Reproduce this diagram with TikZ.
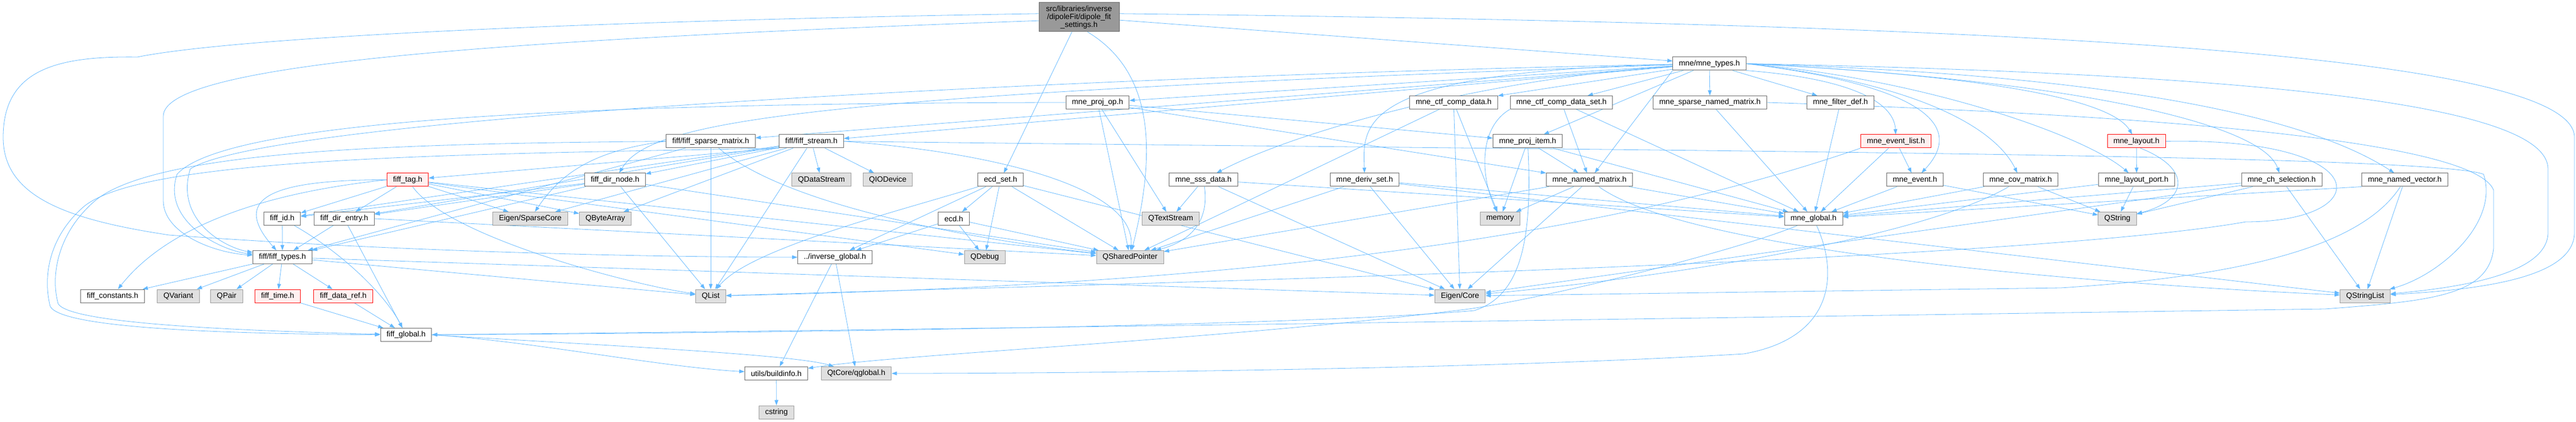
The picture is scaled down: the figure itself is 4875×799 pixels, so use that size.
\documentclass[tikz,border=0pt]{standalone}
\usepackage{fontspec}
\setmainfont{Liberation Sans}
\usetikzlibrary{arrows.meta,backgrounds}
\definecolor{edgeblue}{HTML}{63B8FF}
\definecolor{boxline}{HTML}{666666}
\definecolor{extfill}{HTML}{E0E0E0}
\definecolor{extline}{HTML}{999999}
\definecolor{warnfill}{HTML}{FFF0F0}
\definecolor{mainfill}{HTML}{999999}

\begin{document}
\begin{tikzpicture}[x=1pt,y=-1pt,
  hdr/.style={draw=boxline,fill=white,line width=1pt,minimum height=25pt,inner xsep=11.5pt,inner ysep=0pt,font=\fontsize{14.5}{15}\selectfont},
  ext/.style={hdr,draw=extline,fill=extfill},
  warn/.style={hdr,draw=red,fill=warnfill},
  dep/.style={color=edgeblue,line width=0.8pt,-{Triangle[length=10pt,width=7pt]}}]
\useasboundingbox (0,0) rectangle (4875,799);

\node[hdr,fill=mainfill,minimum width=152pt,minimum height=55pt,align=center] (main) at (2042,32.5) {src/libraries/inverse\\/dipoleFit/dipole\_fit\\\_settings.h};
\node[hdr] (mtypes) at (3235,120.5) {mne/mne\_types.h};

\node[hdr] (projop) at (2077,194) {mne\_proj\_op.h};
\node[hdr] (ctfdata) at (2751,194) {mne\_ctf\_comp\_data.h};
\node[hdr] (ctfset) at (2955,194) {mne\_ctf\_comp\_data\_set.h};
\node[hdr] (spnamed) at (3236,194) {mne\_sparse\_named\_matrix.h};
\node[hdr] (filterdef) at (3483,194) {mne\_filter\_def.h};

\node[hdr] (fsparse) at (1345,267.5) {fiff/fiff\_sparse\_matrix.h};
\node[hdr] (fstream) at (1535.5,267.5) {fiff/fiff\_stream.h};
\node[hdr] (projitem) at (2891,267.5) {mne\_proj\_item.h};
\node[warn] (evlist) at (3588,267.5) {mne\_event\_list.h};
\node[warn] (layout) at (4043,267.5) {mne\_layout.h};

\node[warn] (ftag) at (771.5,340.5) {fiff\_tag.h};
\node[hdr] (fdirnode) at (1164,340.5) {fiff\_dir\_node.h};
\node[ext] (qdatastream) at (1554.5,340.5) {QDataStream};
\node[ext] (qiodevice) at (1680,340.5) {QIODevice};
\node[hdr] (ecdset) at (1893.5,340.5) {ecd\_set.h};
\node[hdr] (sssdata) at (2277.5,340.5) {mne\_sss\_data.h};
\node[hdr] (derivset) at (2582.5,340.5) {mne\_deriv\_set.h};
\node[hdr] (namedmat) at (3008,340.5) {mne\_named\_matrix.h};
\node[hdr] (event) at (3624,340.5) {mne\_event.h};
\node[hdr] (covmat) at (3824,340.5) {mne\_cov\_matrix.h};
\node[hdr] (layoutport) at (4043.5,340.5) {mne\_layout\_port.h};
\node[hdr] (chsel) at (4318,340.5) {mne\_ch\_selection.h};
\node[hdr] (namedvec) at (4551,340.5) {mne\_named\_vector.h};

\node[hdr] (fid) at (534,414) {fiff\_id.h};
\node[hdr] (fdirentry) at (651.5,414) {fiff\_dir\_entry.h};
\node[ext] (eigsparse) at (1003.5,414) {Eigen/SparseCore};
\node[ext] (qbytearray) at (1145.5,414) {QByteArray};
\node[hdr] (ecd) at (1805,414) {ecd.h};
\node[ext] (qtextstream) at (2215.5,414) {QTextStream};
\node[ext] (memory) at (2839,414) {memory};
\node[hdr] (mglobal) at (3432,414) {mne\_global.h};
\node[ext] (qstring) at (4007,414) {QString};

\node[hdr] (ftypes) at (534.5,487) {fiff/fiff\_types.h};
\node[hdr] (invglobal) at (1580,487) {../inverse\_global.h};
\node[ext] (qdebug) at (1863.5,487) {QDebug};
\node[ext] (qshared) at (2138.5,487) {QSharedPointer};

\node[hdr] (fconst) at (213,560.5) {fiff\_constants.h};
\node[ext] (qvariant) at (337.5,560.5) {QVariant};
\node[ext] (qpair) at (429,560.5) {QPair};
\node[warn] (ftime) at (525.5,560.5) {fiff\_time.h};
\node[warn] (fdataref) at (649.5,560.5) {fiff\_data\_ref.h};
\node[ext] (qlist) at (1345,560.5) {QList};
\node[ext] (eigcore) at (2763,560.5) {Eigen/Core};
\node[ext] (qstringlist) at (4476,560.5) {QStringList};

\node[hdr] (fglobal) at (768.5,634) {fiff\_global.h};
\node[hdr] (buildinfo) at (1469,707) {utils/buildinfo.h};
\node[ext] (qglobal) at (1620.5,707) {QtCore/qglobal.h};
\node[ext] (cstring) at (1469.5,780.5) {cstring};

\begin{scope}[on background layer]
\draw[dep] (main.175) .. controls (1100,40) and (450,70) .. (260,108) .. controls (110,106) and (6,130) .. (6,260) .. controls (6,370) and (120,415) .. (320,445) .. controls (800,480) and (1300,487) .. (invglobal);
\draw[dep] (main.185) .. controls (950,75) and (309,120) .. (309,220) -- (309,380) .. controls (309,440) and (400,478) .. (ftypes);
\draw[dep] (main.300) .. controls (2190,140) and (2185,300) .. (qshared);
\draw[dep] (main.5) .. controls (3800,45) and (4872,100) .. (4872,260) -- (4872,440) .. controls (4872,525) and (4700,548) .. (qstringlist);
\path[dep] (main) edge (ecdset) edge (mtypes);

\path[dep] (mtypes) edge (projop) edge (ctfdata) edge (ctfset) edge (spnamed) edge (filterdef) edge (projitem) edge (fsparse) edge (fstream);
\path[dep] (mtypes.south west) edge (namedmat);
\draw[dep] (mtypes) .. controls (2800,150) and (2450,250) .. (sssdata);
\draw[dep] (mtypes) .. controls (2560,135) and (2580,240) .. (derivset);
\draw[dep] (mtypes) .. controls (1500,180) and (1230,230) .. (fdirnode);
\draw[dep] (mtypes.south east) .. controls (3520,150) and (3585,200) .. (evlist);
\draw[dep] (mtypes.east) .. controls (3700,170) and (3700,260) .. (event);
\draw[dep] (mtypes.east) .. controls (3650,160) and (3780,250) .. (covmat);
\draw[dep] (mtypes.east) .. controls (3700,140) and (3990,180) .. (layout);
\draw[dep] (mtypes.east) .. controls (3650,150) and (3950,260) .. (layoutport);
\draw[dep] (mtypes.east) .. controls (3900,150) and (4280,230) .. (chsel);
\draw[dep] (mtypes.east) .. controls (3950,140) and (4350,210) .. (namedvec);
\draw[dep] (mtypes.east) .. controls (4300,140) and (4822,200) .. (4822,320) -- (4822,440) .. controls (4822,520) and (4650,545) .. (qstringlist);
\draw[dep] (mtypes) .. controls (2200,140) and (520,215) .. (360,320) .. controls (330,420) and (430,470) .. (ftypes);

\path[dep] (projop) edge (projitem) edge (qtextstream) edge (qshared) edge (namedmat);
\draw[dep] (projop.west) .. controls (1000,195) and (420,235) .. (335,330) .. controls (305,420) and (420,475) .. (ftypes);
\path[dep] (ctfdata) edge (memory) edge (qshared) edge (eigcore);
\path[dep] (ctfset) edge (namedmat) edge (mglobal);
\draw[dep] (ctfset.south west) .. controls (2800,240) and (2800,330) .. (memory);
\path[dep] (spnamed) edge (mglobal);
\draw[dep] (spnamed.east) .. controls (4000,215) and (4680,260) .. (4719,360) -- (4719,470) .. controls (4710,560) and (4600,570) .. (4400,585) .. controls (3000,605) and (1500,628) .. (fglobal);
\path[dep] (filterdef) edge (mglobal);

\draw[dep] (fsparse.west) .. controls (800,272) and (300,280) .. (180,380) .. controls (110,440) and (95,520) .. (110,575) .. controls (130,610) and (400,625) .. (fglobal);
\draw[dep] (fsparse.west) .. controls (1120,285) and (1060,330) .. (eigsparse);
\draw[dep] (fsparse) .. controls (1500,400) and (1900,460) .. (qshared);
\path[dep] (fsparse) edge (ftypes) edge (qlist);

\draw[dep] (fstream.south west) .. controls (900,292) and (280,295) .. (160,390) .. controls (95,445) and (80,520) .. (95,580) .. controls (115,620) and (400,632) .. (fglobal);
\draw[dep] (fstream.east) .. controls (1900,290) and (2150,360) .. (qshared);
\draw[dep] (fstream.east) .. controls (3000,285) and (4600,290) .. (4700,330) .. controls (4730,420) and (4620,520) .. (qstringlist);
\path[dep] (fstream.south west) edge (ftag);
\path[dep] (fstream) edge (fdirnode) edge (qdatastream) edge (qiodevice) edge (fid) edge (fdirentry) edge (qlist) edge (qbytearray) edge (eigsparse);
\path[dep] (projitem) edge (memory) edge (namedmat) edge (mglobal);
\draw[dep] (projitem) .. controls (2900,450) and (2880,560) .. (2790,588) .. controls (2400,622) and (1200,632) .. (fglobal);
\path[dep] (evlist) edge (event) edge (mglobal);
\draw[dep] (evlist.south west) .. controls (3000,460) and (2300,540) .. (qlist);
\path[dep] (layout) edge (layoutport);
\draw[dep] (layout.-60) .. controls (4150,320) and (4140,380) .. (qstring);
\draw[dep] (layout.east) .. controls (4500,260) and (4500,420) .. (4250,420) .. controls (3800,500) and (2000,540) .. (qlist);

\path[dep] (ftag) edge (fid) edge (fdirentry) edge (eigsparse) edge (qbytearray) edge (qshared) edge (qdebug);
\draw[dep] (ftag) .. controls (850,450) and (1200,540) .. (qlist);
\draw[dep] (ftag.west) .. controls (500,340) and (440,380) .. (ftypes);
\draw[dep] (ftag.west) .. controls (450,370) and (300,450) .. (fconst);
\path[dep] (fdirnode) edge (fid) edge (fdirentry) edge (ftypes) edge (qlist) edge (qshared);
\path[dep] (ecdset) edge (ecd) edge (invglobal) edge (qshared) edge (eigcore) edge (qdebug);
\draw[dep] (ecdset) .. controls (1700,400) and (1420,470) .. (qlist);
\path[dep] (sssdata) edge (qtextstream) edge (eigcore) edge (mglobal);
\draw[dep] (sssdata) .. controls (2290,430) and (2240,460) .. (qshared);
\path[dep] (derivset) edge (qshared) edge (eigcore) edge (mglobal) edge (qstringlist);
\path[dep] (namedmat) edge (memory) edge (mglobal) edge (qshared) edge (eigcore);
\draw[dep] (namedmat) .. controls (3200,480) and (4000,540) .. (qstringlist);
\path[dep] (event) edge (mglobal) edge (qstring);
\path[dep] (covmat) edge (mglobal) edge (qstring);
\draw[dep] (covmat) .. controls (3600,470) and (3000,540) .. (eigcore);
\path[dep] (layoutport) edge (qstring) edge (mglobal);
\path[dep] (chsel) edge (qstring) edge (mglobal) edge (qstringlist) edge (eigcore);
\path[dep] (namedvec) edge (qstringlist);
\path[dep] (namedvec.south west) edge (mglobal);
\draw[dep] (namedvec) .. controls (4480,450) and (4300,520) .. (3900,545) -- (eigcore);

\path[dep] (fid) edge (ftypes);
\draw[dep] (fid) .. controls (650,480) and (730,560) .. (fglobal);
\path[dep] (fdirentry) edge (ftypes) edge (fglobal);
\path[dep] (fdirentry.east) edge (qshared);
\path[dep] (ecd) edge (invglobal) edge (qdebug) edge (qshared);
\path[dep] (ftypes) edge (fconst) edge (qvariant) edge (qpair) edge (ftime) edge (fdataref) edge (qlist) edge (eigcore);
\path[dep] (ftime) edge (fglobal);
\path[dep] (fdataref) edge (fglobal);

\draw[dep] (fglobal.east) .. controls (1000,645) and (1250,695) .. (buildinfo);
\draw[dep] (fglobal.east) .. controls (1100,652) and (1500,670) .. (qglobal);
\path[dep] (invglobal) edge (buildinfo) edge (qglobal);
\draw[dep] (mglobal) .. controls (3300,470) and (2950,560) .. (2780,585) .. controls (2300,645) and (1700,670) .. (buildinfo);
\draw[dep] (mglobal) .. controls (3480,520) and (3470,640) .. (3300,670) .. controls (2800,700) and (2000,707) .. (qglobal);
\path[dep] (buildinfo) edge (cstring);
\end{scope}
\end{tikzpicture}
\end{document}
